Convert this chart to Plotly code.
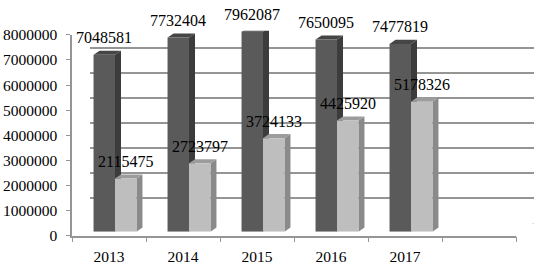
import plotly.graph_objects as go

# ---- data ----
years = ["2013", "2014", "2015", "2016", "2017"]
categories = years + [""]
series_a = [7048581, 7732404, 7962087, 7650095, 7477819]
series_b = [2115475, 2723797, 3724133, 4425920, 5178326]
y_ticks = [0, 1000000, 2000000, 3000000, 4000000, 5000000, 6000000, 7000000, 8000000]

# ---- geometry (pixels) ----
W, H = 541, 269
FX0, FX1 = 72, 516          # front x extent
FY0 = 242                   # front y of value 0
PPM = 26.8                  # px per million
DX, DY = 18, 13             # full depth offset
NCAT = len(categories)
CAT_PX = (FX1 - FX0) / NCAT
KX = 1 / CAT_PX             # category units per px
KY = 1e6 / PPM              # value units per px
YMAX = 8000000

def xdom(off):
    return [(FX0 + off) / W, (FX1 + off) / W]

def ydom(off):
    return [1 - (FY0 - off) / H, 1 - (FY0 - off - YMAX / 1e6 * PPM) / H]

BPX, BPY = DX / 3, DY / 3   # bar plane offset
BDX, BDY = DX / 3, DY / 3   # bar depth

serif = "Liberation Serif, Times New Roman, serif"
grid_col = "#959595"

xi = list(range(len(years)))
BW = 0.29

fig = go.Figure()

fig.add_trace(go.Scatter(x=categories, y=[None] * NCAT, xaxis="x", yaxis="y",
                         showlegend=False, hoverinfo="skip"))
fig.add_trace(go.Scatter(x=[0], y=[None], xaxis="x2", yaxis="y2",
                         showlegend=False, hoverinfo="skip"))

fig.add_trace(go.Bar(x=xi, y=series_a, xaxis="x3", yaxis="y3", width=BW, offset=-BW,
                     marker=dict(color="#5a5a5a", line=dict(width=0)), showlegend=False))
fig.add_trace(go.Bar(x=xi, y=series_b, xaxis="x3", yaxis="y3", width=BW, offset=0,
                     marker=dict(color="#bebebe", line=dict(width=0)), showlegend=False))

shapes = []
for vals, off, side_c, top_c in [(series_a, -BW, "#3c3c3c", "#454545"),
                                  (series_b, 0, "#8a8a8a", "#9c9c9c")]:
    for i, v in zip(xi, vals):
        L = i + off
        R = L + BW
        ddx = BDX * KX
        ddy = BDY * KY
        side = f"M{R},0 L{R},{v} L{R+ddx},{v+ddy} L{R+ddx},{ddy} Z"
        top = f"M{L},{v} L{R},{v} L{R+ddx},{v+ddy} L{L+ddx},{v+ddy} Z"
        shapes.append(dict(type="path", path=side, xref="x3", yref="y3",
                           fillcolor=side_c, line=dict(width=0), layer="between"))
        shapes.append(dict(type="path", path=top, xref="x3", yref="y3",
                           fillcolor=top_c, line=dict(width=0), layer="between"))

for v in y_ticks:
    shapes.append(dict(type="line", xref="x2", yref="y2",
                       x0=-0.5 - DX * KX, y0=v - DY * KY, x1=-0.5, y1=v,
                       line=dict(color=grid_col, width=1.5), layer="below"))
shapes.append(dict(type="line", xref="x2", yref="y2",
                   x0=NCAT - 0.5 - DX * KX, y0=-DY * KY, x1=NCAT - 0.5, y1=0,
                   line=dict(color=grid_col, width=1.5), layer="below"))

annotations = []
for vals, off in [(series_a, -BW / 2), (series_b, BW / 2)]:
    for i, v in zip(xi, vals):
        annotations.append(dict(x=i + off, y=v, xref="x3", yref="y3", text=str(v),
                                showarrow=False, yanchor="middle", yshift=17,
                                font=dict(family=serif, size=16, color="black")))

fig.update_layout(
    width=W, height=H,
    margin=dict(l=0, r=0, t=0, b=0),
    paper_bgcolor="white", plot_bgcolor="rgba(0,0,0,0)",
    showlegend=False,
    xaxis=dict(domain=xdom(0), type="category", categoryorder="array",
               categoryarray=categories, range=[-0.5, NCAT - 0.5],
               showline=True, linecolor=grid_col, linewidth=1.5,
               ticks="outside", tickson="boundaries", ticklen=5, tickcolor=grid_col,
               showgrid=False, zeroline=False, ticklabelstandoff=6,
               tickfont=dict(family=serif, size=15.5, color="black"), fixedrange=True),
    yaxis=dict(domain=ydom(0), range=[0, YMAX], tickvals=y_ticks, tickformat="d",
               showline=True, linecolor=grid_col, linewidth=1.5,
               ticks="outside", ticklen=4, tickcolor=grid_col, ticklabelstandoff=6,
               showgrid=False, zeroline=False,
               tickfont=dict(family=serif, size=15.5, color="black"), fixedrange=True),
    xaxis2=dict(domain=xdom(DX), range=[-0.5, NCAT - 0.5], visible=False, anchor="y2"),
    yaxis2=dict(domain=ydom(DY), range=[0, YMAX], tickvals=y_ticks, showgrid=True,
                gridcolor=grid_col, gridwidth=1.5, zeroline=False,
                showticklabels=False, ticks="", showline=False, anchor="x2"),
    xaxis3=dict(domain=xdom(BPX), range=[-0.5, NCAT - 0.5], visible=False, anchor="y3"),
    yaxis3=dict(domain=ydom(BPY), range=[0, YMAX], visible=False, anchor="x3"),
    shapes=shapes,
    annotations=annotations,
)

fig.write_html("out.html", config={"displayModeBar": False},
               post_script="document.body.style.margin='0';")
